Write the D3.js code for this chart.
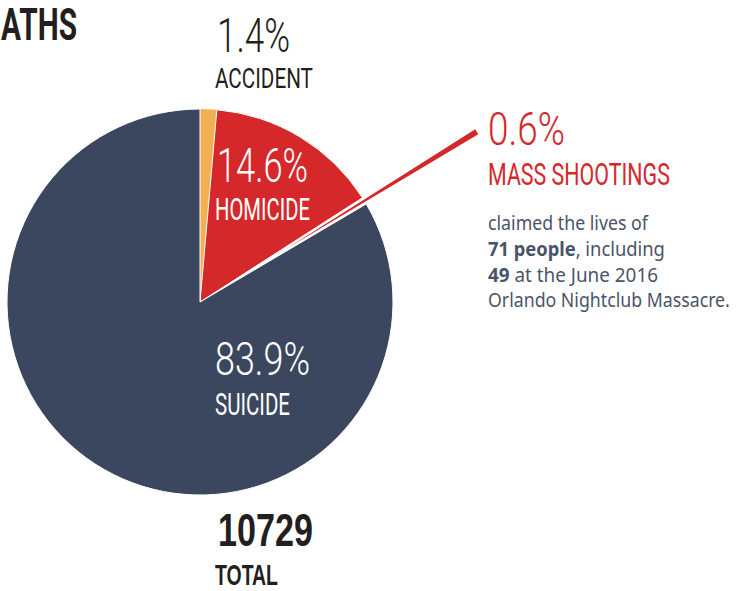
<!DOCTYPE html>
<html>
<head>
<meta charset="utf-8">
<script src="https://cdn.jsdelivr.net/npm/d3@7"></script>
<style>
  html, body { margin: 0; padding: 0; background: #ffffff; }
  svg { display: block; }
</style>
</head>
<body>
<svg id="chart" width="737" height="591"></svg>
<script>
// ---- data ----
const categories = ["ACCIDENT", "HOMICIDE", "MASS SHOOTINGS", "SUICIDE"];
const values = [1.4, 14.6, 0.6, 83.9];
const valueLabels = ["1.4%", "14.6%", "0.6%", "83.9%"];
const colors = ["#f1b152", "#d5282b", "#d5282b", "#3b475e"];
const totalValue = "10729";
const totalLabel = "TOTAL";
const titleText = "ATHS";
const noteLines = [
  [{t: "claimed the lives of", b: false}],
  [{t: "71 people", b: true}, {t: ", including", b: false}],
  [{t: "49", b: true}, {t: " at the June 2016", b: false}],
  [{t: "Orlando Nightclub Massacre.", b: false}]
];

// ---- layout ----
const svg = d3.select("#chart");
const cx = 200, cy = 302, R = 193;

const pie = d3.pie().sort(null).value(d => d.v).startAngle(0).endAngle(2 * Math.PI);
const arcs = pie(values.map((v, i) => ({v, i})));
const arc = d3.arc().innerRadius(0).outerRadius(R);

const g = svg.append("g").attr("transform", `translate(${cx},${cy})`);

arcs.forEach((a, k) => {
  if (k === 2) return;
  g.append("path")
    .attr("d", arc(a))
    .attr("fill", colors[k])
    .attr("stroke", "#ffffff")
    .attr("stroke-width", k === 0 ? 0 : 1)
    .attr("stroke-linejoin", "round");
});
// exploded mass shootings slice
{
  const a = arcs[2];
  const mid = (a.startAngle + a.endAngle) / 2;
  const off = 100, R2 = 225, w = 0.026;
  const ex = Math.sin(mid) * off, ey = -Math.cos(mid) * off;
  g.append("path")
    .attr("transform", `translate(${ex},${ey})`)
    .attr("d", d3.arc().innerRadius(0).outerRadius(R2)({startAngle: mid - w / 2, endAngle: mid + w / 2}))
    .attr("fill", colors[2]);
}

// ---- text helper: condensed by horizontal scaling ----
function label(x, y, txt, size, weight, fill, width, family) {
  const t = svg.append("text")
    .attr("x", 0).attr("y", 0)
    .attr("font-family", family || "Roboto, 'Liberation Sans Narrow', sans-serif")
    .attr("font-size", size)
    .attr("font-weight", weight)
    .attr("fill", fill)
    .text(txt);
  const nat = t.node().getComputedTextLength() || width;
  t.attr("transform", `translate(${x},${y}) scale(${width / nat},1)`);
  return t;
}

const dark = "#231f20";
const boldFam = "'Liberation Sans', Arial, sans-serif";
label(1, 40, titleText, 44, 700, dark, 76);

label(217, 52, valueLabels[0], 48, 300, dark, 73);
label(215, 88, categories[0], 28, 400, dark, 98);

label(217, 182, valueLabels[1], 49, 300, "#ffffff", 91);
label(215, 220, categories[1], 31, 400, "#ffffff", 95);

label(488, 145, valueLabels[2], 46, 300, colors[2], 77);
label(488, 185, categories[2], 31, 400, colors[2], 182);

label(215, 375, valueLabels[3], 47, 300, "#ffffff", 95);
label(215, 415, categories[3], 32, 400, "#ffffff", 75);

label(218, 546, totalValue, 46, 700, dark, 95, boldFam);
label(215, 584.5, totalLabel, 30, 700, dark, 63, boldFam);

// ---- note paragraph ----
const noteWidths = [160, 177, 170, 242];
const noteBase = [230, 256, 282, 307];
noteLines.forEach((line, i) => {
  const t = svg.append("text")
    .attr("x", 0).attr("y", 0)
    .attr("font-family", "'Noto Sans', 'Open Sans', sans-serif")
    .attr("font-size", 20)
    .attr("fill", "#4a5469");
  line.forEach(s => {
    t.append("tspan").attr("font-weight", s.b ? 700 : 400).text(s.t);
  });
  const nat = t.node().getComputedTextLength() || noteWidths[i];
  t.attr("transform", `translate(488,${noteBase[i]}) scale(${noteWidths[i] / nat},1)`);
});
</script>
</body>
</html>
